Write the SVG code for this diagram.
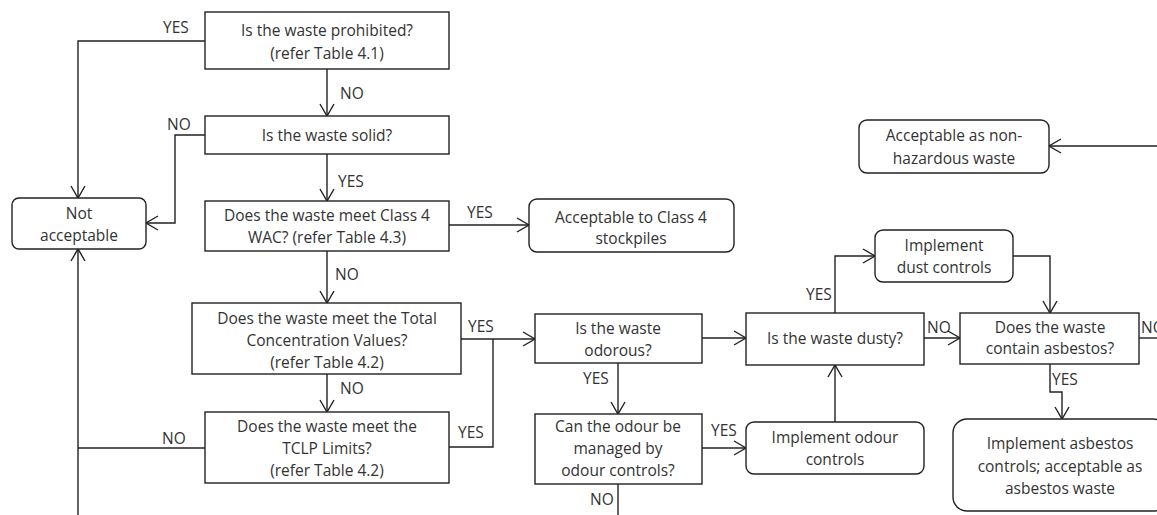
<svg xmlns="http://www.w3.org/2000/svg" width="1157" height="515" viewBox="0 0 1157 515">
<defs>
<style>
.box{fill:#fff;stroke:#222;stroke-width:1.4}
.t{font-family:"Open Sans","Noto Sans","Liberation Sans",sans-serif;font-size:15.5px;fill:#333;text-anchor:middle}
.l{font-family:"Open Sans","Noto Sans","Liberation Sans",sans-serif;font-size:15.5px;fill:#333}
.c{fill:none;stroke:#222;stroke-width:1.4}
</style>
<marker id="arr" markerUnits="userSpaceOnUse" markerWidth="16" markerHeight="18" refX="13" refY="8" orient="auto">
<path d="M1,1 L13,8 L1,15" fill="none" stroke="#222" stroke-width="1.4"/>
</marker>
</defs>
<rect width="1157" height="515" fill="#fff"/>
<g id="connectors">
<path class="c" d="M205,41 H78 V198" marker-end="url(#arr)"/>
<path class="c" d="M327,69 V116" marker-end="url(#arr)"/>
<path class="c" d="M205,135 H175 V223 H146" marker-end="url(#arr)"/>
<path class="c" d="M327,154 V201" marker-end="url(#arr)"/>
<path class="c" d="M449,225 H529" marker-end="url(#arr)"/>
<path class="c" d="M327,251 V303" marker-end="url(#arr)"/>
<path class="c" d="M327,374 V412" marker-end="url(#arr)"/>
<path class="c" d="M205,448 H78"/>
<path class="c" d="M78,515 V249" marker-end="url(#arr)"/>
<path class="c" d="M461,339 H535" marker-end="url(#arr)"/>
<path class="c" d="M449,447 H493 V339"/>
<path class="c" d="M702,338 H746" marker-end="url(#arr)"/>
<path class="c" d="M618,363 V414" marker-end="url(#arr)"/>
<path class="c" d="M702,448 H746" marker-end="url(#arr)"/>
<path class="c" d="M618,484 V515"/>
<path class="c" d="M835,422 V365" marker-end="url(#arr)"/>
<path class="c" d="M835,313 V256 H875" marker-end="url(#arr)"/>
<path class="c" d="M1013,256 H1050 V313" marker-end="url(#arr)"/>
<path class="c" d="M924,338 H960" marker-end="url(#arr)"/>
<path class="c" d="M1139,338 H1157"/>
<path class="c" d="M1050,364 V392 H1062 V419" marker-end="url(#arr)"/>
<path class="c" d="M1157,146 H1049" marker-end="url(#arr)"/>
<text class="l" x="163" y="33">YES</text>
<text class="l" x="340" y="99">NO</text>
<text class="l" x="167" y="130">NO</text>
<text class="l" x="338" y="187">YES</text>
<text class="l" x="467" y="218">YES</text>
<text class="l" x="335" y="280">NO</text>
<text class="l" x="340" y="394">NO</text>
<text class="l" x="162" y="444">NO</text>
<text class="l" x="468" y="332">YES</text>
<text class="l" x="458" y="438">YES</text>
<text class="l" x="583" y="384">YES</text>
<text class="l" x="711" y="436">YES</text>
<text class="l" x="590" y="505">NO</text>
<text class="l" x="806" y="300">YES</text>
<text class="l" x="927" y="333">NO</text>
<text class="l" x="1141" y="333">NO</text>
<text class="l" x="1052" y="385">YES</text>
</g>
<g id="n_prohibited">
<rect class="box" x="205" y="12" width="244" height="57"/>
<text class="t" x="327" y="36">Is the waste prohibited?</text>
<text class="t" x="327" y="59">(refer Table 4.1)</text>
</g>
<g id="n_solid">
<rect class="box" x="205" y="116" width="244" height="38"/>
<text class="t" x="327" y="141">Is the waste solid?</text>
</g>
<g id="n_class4">
<rect class="box" x="205" y="201" width="244" height="50"/>
<text class="t" x="327" y="221">Does the waste meet Class 4</text>
<text class="t" x="327" y="243">WAC? (refer Table 4.3)</text>
</g>
<g id="n_total">
<rect class="box" x="192" y="303" width="269" height="71"/>
<text class="t" x="327" y="324">Does the waste meet the Total</text>
<text class="t" x="327" y="346">Concentration Values?</text>
<text class="t" x="327" y="368">(refer Table 4.2)</text>
</g>
<g id="n_tclp">
<rect class="box" x="205" y="412" width="244" height="71"/>
<text class="t" x="327" y="432">Does the waste meet the</text>
<text class="t" x="327" y="454">TCLP Limits?</text>
<text class="t" x="327" y="476">(refer Table 4.2)</text>
</g>
<g id="n_not_acceptable">
<rect class="box" x="12" y="198" width="134" height="51" rx="7"/>
<text class="t" x="79" y="219">Not</text>
<text class="t" x="79" y="241">acceptable</text>
</g>
<g id="n_stockpiles">
<rect class="box" x="529" y="199" width="205" height="53" rx="8"/>
<text class="t" x="631" y="223">Acceptable to Class 4</text>
<text class="t" x="631" y="244">stockpiles</text>
</g>
<g id="n_odorous">
<rect class="box" x="535" y="314" width="167" height="49"/>
<text class="t" x="618" y="334">Is the waste</text>
<text class="t" x="618" y="356">odorous?</text>
</g>
<g id="n_odour_managed">
<rect class="box" x="535" y="414" width="167" height="70"/>
<text class="t" x="618" y="432">Can the odour be</text>
<text class="t" x="618" y="454">managed by</text>
<text class="t" x="618" y="476">odour controls?</text>
</g>
<g id="n_dusty">
<rect class="box" x="746" y="313" width="178" height="52"/>
<text class="t" x="835" y="344">Is the waste dusty?</text>
</g>
<g id="n_odour_controls">
<rect class="box" x="746" y="422" width="178" height="52" rx="8"/>
<text class="t" x="835" y="443">Implement odour</text>
<text class="t" x="835" y="465">controls</text>
</g>
<g id="n_dust_controls">
<rect class="box" x="875" y="230" width="138" height="52" rx="8"/>
<text class="t" x="944" y="251">Implement</text>
<text class="t" x="944" y="273">dust controls</text>
</g>
<g id="n_asbestos_q">
<rect class="box" x="960" y="313" width="179" height="51"/>
<text class="t" x="1050" y="333">Does the waste</text>
<text class="t" x="1050" y="354">contain asbestos?</text>
</g>
<g id="n_asbestos_ctrl">
<rect class="box" x="953" y="419" width="214" height="92" rx="14"/>
<text class="t" x="1060" y="449">Implement asbestos</text>
<text class="t" x="1060" y="472">controls; acceptable as</text>
<text class="t" x="1060" y="494">asbestos waste</text>
</g>
<g id="n_nonhaz">
<rect class="box" x="859" y="120" width="190" height="53" rx="8"/>
<text class="t" x="954" y="141">Acceptable as non-</text>
<text class="t" x="954" y="164">hazardous waste</text>
</g>
</svg>
